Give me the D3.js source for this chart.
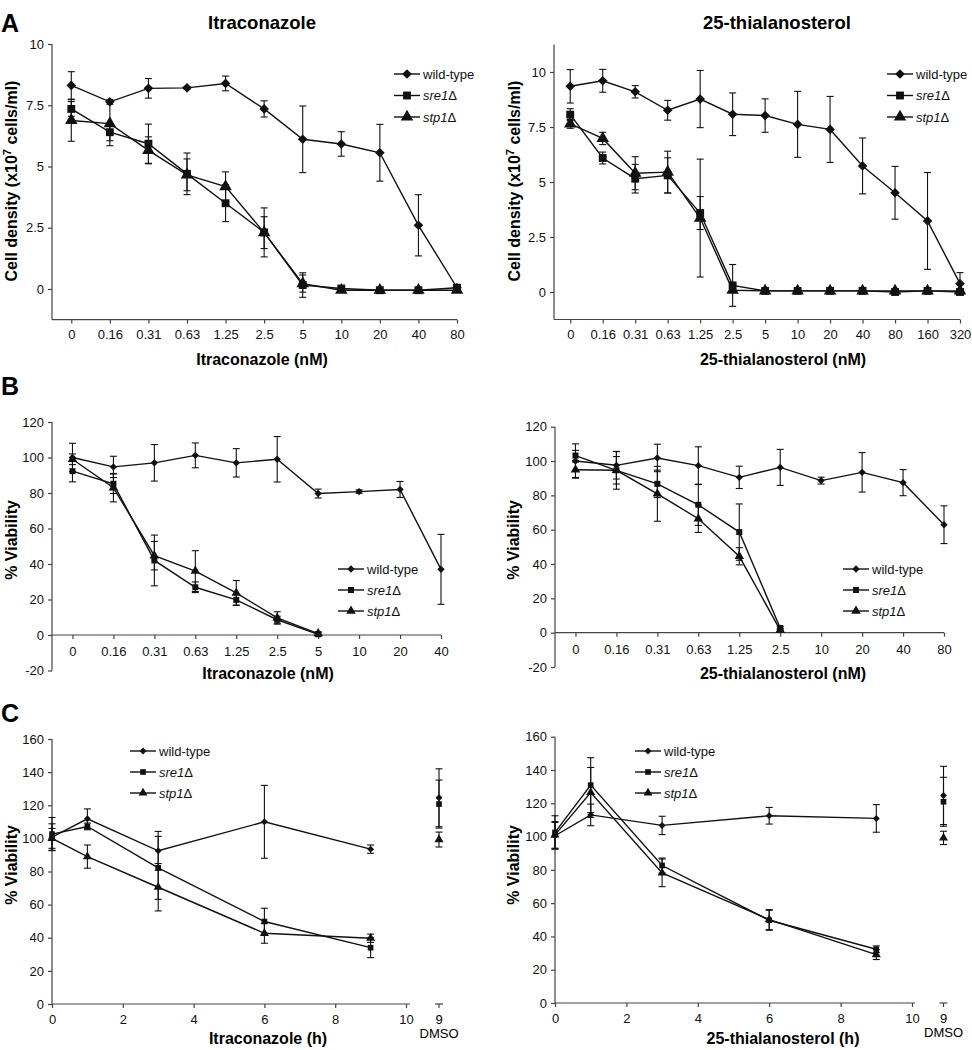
<!DOCTYPE html>
<html lang="en">
<head>
<meta charset="UTF-8">
<title>Itraconazole / 25-thialanosterol</title>
<style>
  body { margin: 0; background: #fff; }
  svg { display: block; font-family: "Liberation Sans", Arial, sans-serif; }
  .tick text { font-size: 13px; fill: #111; }
  .tick line, .axisline { stroke: #444; stroke-width: 1.2; }
  .series { fill: none; stroke: #111; stroke-width: 1.4; }
  .err { stroke: #111; stroke-width: 1.1; }
  .legend text { font-size: 13px; fill: #111; }
  .title { font-size: 18.5px; font-weight: bold; }
  .axtitle { font-size: 16px; font-weight: bold; }
  .letter { font-size: 25px; font-weight: bold; }
</style>
</head>
<body>
<svg></svg>
<script src="https://cdnjs.cloudflare.com/ajax/libs/d3/7.8.5/d3.min.js"></script>
<script>
// ---- data ----
const seriesNames = ['wild-type', 'sre1', 'stp1'];

// A: cell density (x10^7 cells/ml)
const itraDoseA = ['0','0.16','0.31','0.63','1.25','2.5','5','10','20','40','80'];
const itraA_wt     = [8.31, 7.64, 8.19, 8.21, 8.39, 7.35, 6.11, 5.92, 5.56, 2.60, 0.05];
const itraA_wtErr  = [0.56, 0.10, 0.40, 0.05, 0.30, 0.33, 1.36, 0.50, 1.16, 1.25, 0.05];
const itraA_sre    = [7.35, 6.40, 5.93, 4.70, 3.50, 2.31, 0.16, 0.02, -0.05, -0.05, 0.05];
const itraA_sreErr = [0.30, 0.35, 0.80, 0.85, 0.75, 1.00, 0.50, 0.05, 0.03, 0.03, 0.10];
const itraA_stp    = [6.88, 6.75, 5.66, 4.66, 4.18, 2.30, 0.22, -0.05, -0.05, -0.05, -0.05];
const itraA_stpErr = [0.85, 0.90, 0.55, 0.65, 0.60, 0.65, 0.35, 0.05, 0.05, 0.05, 0.05];

const thiaDoseA = ['0','0.16','0.31','0.63','1.25','2.5','5','10','20','40','80','160','320'];
const thiaA_wt     = [9.35, 9.60, 9.10, 8.26, 8.77, 8.08, 8.02, 7.62, 7.39, 5.73, 4.51, 3.23, 0.38];
const thiaA_wtErr  = [0.76, 0.52, 0.28, 0.45, 1.30, 0.97, 0.76, 1.50, 1.50, 1.27, 1.20, 2.20, 0.50];
const thiaA_sre    = [8.06, 6.09, 5.15, 5.30, 3.59, 0.30, 0.05, 0.05, 0.05, 0.05, 0.00, 0.05, 0.00];
const thiaA_sreErr = [0.27, 0.27, 0.65, 0.80, 0.75, 0.95, 0.05, 0.05, 0.03, 0.05, 0.05, 0.03, 0.05];
const thiaA_stp    = [7.64, 6.98, 5.40, 5.45, 3.36, 0.08, 0.05, 0.05, 0.05, 0.05, 0.05, 0.05, 0.05];
const thiaA_stpErr = [0.20, 0.28, 0.75, 0.95, 2.68, 0.10, 0.03, 0.03, 0.03, 0.03, 0.03, 0.03, 0.03];

// B: % viability vs dose
const itraDoseB = ['0','0.16','0.31','0.63','1.25','2.5','5','10','20','40'];
const itraB_wt     = [100, 94.7, 97, 101.2, 97, 99, 79.7, 80.8, 82, 37];
const itraB_wtErr  = [8, 6, 10.3, 7, 8, 12.8, 2.5, 1, 4.5, 19.7];
const itraB_sre    = [92.3, 85.2, 42, 26.9, 19.8, 8.6, 0.4];
const itraB_sreErr = [6, 5.5, 14.3, 3, 3, 2, 1];
const itraB_stp    = [99, 83, 44.7, 36, 23.7, 9.6, 0.8];
const itraB_stpErr = [3, 8, 8, 11.5, 7, 3.5, 1];

const thiaDoseB = ['0','0.16','0.31','0.63','1.25','2.5','10','20','40','80'];
const thiaB_wt     = [100, 97.5, 101.8, 97.3, 90.5, 96.3, 88.6, 93.4, 87.4, 62.9];
const thiaB_wtErr  = [10, 8, 8, 11, 6.5, 10.5, 2, 11.5, 7.6, 11];
const thiaB_sre    = [103.2, 94.6, 86.7, 74.5, 58.6, 2.7];
const thiaB_sreErr = [3, 8, 8, 12, 16.4, 1];
const thiaB_stp    = [94.9, 94.6, 80.9, 66.4, 44.5, 1.5];
const thiaB_stpErr = [4.5, 11, 16, 8, 5, 1];

// C: % viability vs time (h), plus DMSO control at 9 h
const timeC = [0, 1, 3, 6, 9];
const itraC_wt     = [100.8, 111.8, 92.5, 110, 93.5];
const itraC_wtErr  = [8, 6, 11.7, 22, 2.5];
const itraC_sre    = [102.6, 107.2, 82.2, 49.8, 34];
const itraC_sreErr = [10, 2, 19, 8, 6];
const itraC_stp    = [100, 89, 70.5, 42.7, 39.7];
const itraC_stpErr = [6, 7, 14.3, 6, 2.5];
const itraC_dmso    = [124.5, 120.7, 99.3];
const itraC_dmsoErr = [17.5, 14.5, 4.5];

const thiaC_wt     = [100.5, 113, 106.7, 112.5, 110.9];
const thiaC_wtErr  = [8, 6.5, 5.5, 5, 8.3];
const thiaC_sre    = [102.5, 130.9, 82.6, 49.7, 32.3];
const thiaC_sreErr = [10, 16.5, 4.5, 6, 2];
const thiaC_stp    = [101, 126.5, 78.2, 50.1, 29.1];
const thiaC_stpErr = [8, 15, 8.3, 6, 3];
const thiaC_dmso    = [124.7, 120.9, 99.2];
const thiaC_dmsoErr = [17.5, 14.7, 4];

// ---- drawing ----
const width = 972, height = 1050;
const svg = d3.select('svg').attr('width', width).attr('height', height);

const symbols = [
  {type: d3.symbolSquare, rot: 45, scale: 0.75},   // diamond
  {type: d3.symbolSquare, rot: 0, scale: 1},       // square
  {type: d3.symbolTriangle, rot: 0, scale: 1.1}    // triangle
];

function marker(g, i, cx, cy, size) {
  const s = symbols[i];
  g.append('path')
    .attr('d', d3.symbol().type(s.type).size(size * s.scale)())
    .attr('transform', `translate(${cx},${cy}) rotate(${s.rot})`)
    .attr('fill', '#111');
}

function legendLabel(text, i) {
  text.append('tspan').text(seriesNames[i]).attr('font-style', i ? 'italic' : 'normal');
  if (i) text.append('tspan').text('Δ');
}

function drawPanel(p) {
  const g = svg.append('g');
  const y = d3.scaleLinear().domain(p.yDomain).range([p.bottom, p.top]);
  let x;
  if (p.cats) {
    const step = (p.right - p.left) / (p.cats.length - 0.5);
    x = d3.scalePoint().domain(p.cats).range([p.left + step / 2, p.right]);
  } else {
    x = d3.scaleLinear().domain([0, 10]).range([p.left, p.x10]);
  }

  // y axis
  const yAx = g.append('g').attr('transform', `translate(${p.left},0)`)
    .call(d3.axisLeft(y).tickValues(p.yTicks).tickSize(4).tickSizeOuter(0).tickPadding(4).tickFormat(d => String(d)));
  yAx.select('.domain').remove();
  g.append('line').attr('class', 'axisline')
    .attr('x1', p.left).attr('x2', p.left).attr('y1', p.top).attr('y2', p.bottom);

  // x axis
  const axisY = y(p.xAxisAt);
  const xAx = g.append('g').attr('transform', `translate(0,${axisY})`)
    .call((p.cats ? d3.axisBottom(x) : d3.axisBottom(x).tickValues([0, 2, 4, 6, 8, 10]))
      .tickSize(4).tickSizeOuter(0).tickPadding(p.xPad));
  xAx.select('.domain').remove();
  g.append('line').attr('class', 'axisline')
    .attr('x1', p.left).attr('x2', p.axisRight).attr('y1', axisY).attr('y2', axisY);
  g.selectAll('.tick line').attr('class', null).attr('stroke', '#444').attr('stroke-width', 1.2);

  // series
  const xs = p.cats || p.times;
  p.series.forEach((s, i) => {
    const pts = s.vals.map((v, k) => ({x: x(xs[k]), y: y(v), lo: y(v - s.errs[k]), hi: y(v + s.errs[k])}));
    pts.forEach(d => {
      g.append('line').attr('class', 'err').attr('x1', d.x).attr('x2', d.x).attr('y1', d.lo).attr('y2', d.hi);
      [d.lo, d.hi].forEach(yy => g.append('line').attr('class', 'err')
        .attr('x1', d.x - 3.5).attr('x2', d.x + 3.5).attr('y1', yy).attr('y2', yy));
    });
    g.append('path').attr('class', 'series')
      .attr('d', d3.line().x(d => d.x).y(d => d.y)(pts));
    pts.forEach(d => marker(g, i, d.x, d.y, p.msize));
  });

  // DMSO control
  if (p.dmso) {
    const dx = x(10) + p.dmsoGap;
    g.append('line').attr('class', 'axisline').attr('x1', dx - 4).attr('x2', dx + 4).attr('y1', axisY).attr('y2', axisY);
    g.append('line').attr('class', 'axisline').attr('x1', dx).attr('x2', dx).attr('y1', axisY).attr('y2', axisY + 4);
    p.dmso.vals.forEach((v, i) => {
      const e = p.dmso.errs[i];
      g.append('line').attr('class', 'err').attr('x1', dx).attr('x2', dx).attr('y1', y(v - e)).attr('y2', y(v + e));
      [v - e, v + e].forEach(vv => g.append('line').attr('class', 'err')
        .attr('x1', dx - 3.5).attr('x2', dx + 3.5).attr('y1', y(vv)).attr('y2', y(vv)));
    });
    p.dmso.vals.forEach((v, i) => marker(g, i, dx, y(v), p.msize));
    g.append('text').attr('x', dx).attr('y', axisY + 19.5).attr('text-anchor', 'middle')
      .attr('font-size', 13).text('9');
    g.append('text').attr('x', dx).attr('y', axisY + 33.5).attr('text-anchor', 'middle')
      .attr('font-size', 13).text('DMSO');
  }

  // axis titles
  g.append('text').attr('class', 'axtitle').attr('text-anchor', 'middle')
    .attr('x', p.xTitle[0]).attr('y', p.xTitle[1]).text(p.xLabel);
  const yt = g.append('text').attr('class', 'axtitle').attr('text-anchor', 'middle')
    .attr('transform', `translate(${p.yTitle[0]},${p.yTitle[1]}) rotate(-90)`);
  if (p.density) {
    yt.append('tspan').text('Cell density (x10');
    yt.append('tspan').text('7').attr('font-size', 11).attr('dy', -6);
    yt.append('tspan').text(' cells/ml)').attr('dy', 6);
  } else {
    yt.text('% Viability');
  }

  // legend
  const lg = g.append('g').attr('class', 'legend');
  p.series.forEach((s, i) => {
    const ly = p.legend.y + i * p.legend.dy;
    lg.append('line').attr('x1', p.legend.x).attr('x2', p.legend.x + 26).attr('y1', ly).attr('y2', ly)
      .attr('stroke', '#111').attr('stroke-width', 1.4);
    marker(lg, i, p.legend.x + 13, ly, p.msize);
    const t = lg.append('text').attr('x', p.legend.x + 29).attr('y', ly).attr('dy', '0.35em');
    legendLabel(t, i);
  });
}

function ser(a, b, c, d, e, f) {
  return [{vals: a, errs: b}, {vals: c, errs: d}, {vals: e, errs: f}];
}

const panels = [
  {cats: itraDoseA, left: 52, right: 457, top: 44, bottom: 319.6, yDomain: [-1.25, 10],
   yTicks: [0, 2.5, 5, 7.5, 10], xAxisAt: -1.25, xPad: 6, msize: 62, density: true,
   series: ser(itraA_wt, itraA_wtErr, itraA_sre, itraA_sreErr, itraA_stp, itraA_stpErr),
   xLabel: 'Itraconazole (nM)', xTitle: [262, 365], yTitle: [17, 181],
   legend: {x: 394, y: 74, dy: 21.5}},
  {cats: thiaDoseA, left: 554, right: 960, top: 44.5, bottom: 319.5, yDomain: [-1.25, 11.25],
   yTicks: [0, 2.5, 5, 7.5, 10], xAxisAt: -1.25, xPad: 6, msize: 62, density: true,
   series: ser(thiaA_wt, thiaA_wtErr, thiaA_sre, thiaA_sreErr, thiaA_stp, thiaA_stpErr),
   xLabel: '25-thialanosterol (nM)', xTitle: [783, 365], yTitle: [520, 181],
   legend: {x: 887, y: 74, dy: 21.5}},
  {cats: itraDoseB, left: 52, right: 441, top: 422, bottom: 670.5, yDomain: [-20, 120],
   yTicks: d3.range(-20, 121, 20), xAxisAt: 0, xPad: 8, msize: 36,
   series: ser(itraB_wt, itraB_wtErr, itraB_sre, itraB_sreErr, itraB_stp, itraB_stpErr),
   xLabel: 'Itraconazole (nM)', xTitle: [268, 679], yTitle: [17, 540],
   legend: {x: 338, y: 569, dy: 21}},
  {cats: thiaDoseB, left: 555, right: 944, top: 426.7, bottom: 667, yDomain: [-20, 120],
   yTicks: d3.range(-20, 121, 20), xAxisAt: 0, xPad: 8, msize: 36,
   series: ser(thiaB_wt, thiaB_wtErr, thiaB_sre, thiaB_sreErr, thiaB_stp, thiaB_stpErr),
   xLabel: '25-thialanosterol (nM)', xTitle: [783, 679], yTitle: [519, 540],
   legend: {x: 843, y: 569, dy: 21}},
  {times: timeC, left: 52, x10: 406, axisRight: 410, top: 739, bottom: 1004, yDomain: [0, 160],
   yTicks: d3.range(0, 161, 20), xAxisAt: 0, xPad: 7, msize: 32, dmsoGap: 33,
   dmso: {vals: itraC_dmso, errs: itraC_dmsoErr},
   series: ser(itraC_wt, itraC_wtErr, itraC_sre, itraC_sreErr, itraC_stp, itraC_stpErr),
   xLabel: 'Itraconazole (h)', xTitle: [268, 1044], yTitle: [17, 865],
   legend: {x: 130, y: 751, dy: 21}},
  {times: timeC, left: 555, x10: 912, axisRight: 915, top: 736.7, bottom: 1003, yDomain: [0, 160],
   yTicks: d3.range(0, 161, 20), xAxisAt: 0, xPad: 7, msize: 32, dmsoGap: 31.5,
   dmso: {vals: thiaC_dmso, errs: thiaC_dmsoErr},
   series: ser(thiaC_wt, thiaC_wtErr, thiaC_sre, thiaC_sreErr, thiaC_stp, thiaC_stpErr),
   xLabel: '25-thialanosterol (h)', xTitle: [783, 1044], yTitle: [519, 865],
   legend: {x: 635, y: 751, dy: 21}}
];
panels.forEach(p => { if (p.cats) p.axisRight = p.right; drawPanel(p); });

// panel titles and letters
svg.append('text').attr('class', 'title').attr('x', 262).attr('y', 29).attr('text-anchor', 'middle').text('Itraconazole');
svg.append('text').attr('class', 'title').attr('x', 777).attr('y', 29).attr('text-anchor', 'middle').text('25-thialanosterol');
[['A', 32], ['B', 395], ['C', 722]].forEach(([t, yy]) =>
  svg.append('text').attr('class', 'letter').attr('x', 1).attr('y', yy).text(t));
</script>
</body>
</html>
